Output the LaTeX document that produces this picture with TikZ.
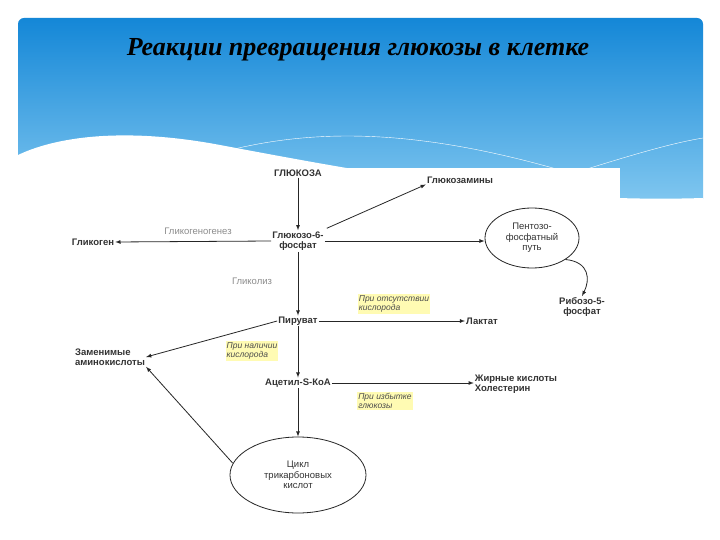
\documentclass[tikz,border=0pt]{standalone}
\usepackage{fontspec}
\usetikzlibrary{shapes.geometric}
\setmainfont{Liberation Sans}
\newfontfamily\titlefont{Liberation Serif}
\begin{document}
\begin{tikzpicture}[x=1pt,y=-1pt,
  lbl/.style={font=\fontsize{9.5}{10.5}\selectfont\bfseries,text=black!80,inner sep=1pt,align=left},
  gr/.style={font=\fontsize{9.5}{10.5}\selectfont,text=gray!90,inner sep=1pt},
  hl/.style={font=\fontsize{8.5}{9.5}\selectfont\itshape,text=black!70,fill=yellow!30,inner sep=1pt,align=left},
  arr/.style={-latex,thick,black!85},
  ell/.style={draw,thick,ellipse,black!85}]
\useasboundingbox (0,0) rectangle (720,540);
\fill[white] (0,0) rectangle (720,540);
\shade[top color={rgb,255:red,20;green,135;blue,215},bottom color={rgb,255:red,130;green,200;blue,240},rounded corners=6]
 (18,18) rectangle (703,205);
\fill[white] (18,155) .. controls (60,135) and (130,128) .. (220,145) .. controls (300,160) and (380,175) .. (460,185) .. controls (560,198) and (640,200) .. (703,198) -- (703,545) -- (18,545) -- cycle;
\draw[white,thin] (230,150) .. controls (320,128) and (420,130) .. (560,170);
\draw[white,thin] (520,190) .. controls (600,165) and (660,145) .. (703,138);
\fill[white] (340,168) rectangle (620,545);
\node[font=\titlefont\fontsize{26}{28}\selectfont\bfseries\itshape] (title) at (358,50) {Реакции превращения глюкозы в клетке};

\node[lbl] (glu) at (298,173) {ГЛЮКОЗА};
\node[lbl] (gam) at (460,180) {Глюкозамины};
\node[lbl,align=center] (g6f) at (298,241) {Глюкозо-6-\\фосфат};
\node[lbl] (gly) at (93,242) {Гликоген};
\node[gr] (glg) at (198,231) {Гликогеногенез};
\node[ell,minimum width=94,minimum height=60,align=center,font=\fontsize{9.5}{10.5}\selectfont,text=black!80] (ppp) at (532,238) {Пентозо-\\фосфатный\\путь};
\node[gr] (glk) at (252,281) {Гликолиз};
\node[lbl,align=center] (rib) at (582,307) {Рибозо-5-\\фосфат};
\node[lbl] (pyr) at (298,321) {Пируват};
\node[lbl] (lac) at (482,321) {Лактат};
\node[hl] (h1) at (394,304) {При отсутствии\\кислорода};
\node[lbl] (ami) at (110,357) {Заменимые\\аминокислоты};
\node[hl] (h2) at (252,351) {При наличии\\кислорода};
\node[lbl] (ace) at (298,383) {Ацетил-S-КоА};
\node[lbl] (fat) at (516,384) {Жирные кислоты\\Холестерин};
\node[hl] (h3) at (385,401) {При избытке\\глюкозы};
\node[ell,minimum width=136,minimum height=76,align=center,font=\fontsize{9.5}{10.5}\selectfont,text=black!80] (tca) at (298,475) {Цикл\\трикарбоновых\\кислот};

\draw[arr] (glu) -- (g6f);
\draw[arr] (g6f.north east) ++(2,-2) -- (gam.south west);
\draw[arr] (g6f.west) -- (gly.east);
\draw[arr] (g6f.east) -- (g6f.east -| ppp.west);
\draw[arr] (ppp.south east) .. controls (590,262) and (590,280) .. (rib.north);
\draw[arr] (g6f) -- (pyr);
\draw[arr] (pyr) -- (lac);
\draw[arr] (pyr.west) -- (ami.east);
\draw[arr] (pyr) -- (ace);
\draw[arr] (ace.east) -- (ace.east -| fat.west);
\draw[arr] (ace) -- (tca);
\draw[arr] (tca.west) ++(3,-12) -- (ami.south east);
\end{tikzpicture}
\end{document}
